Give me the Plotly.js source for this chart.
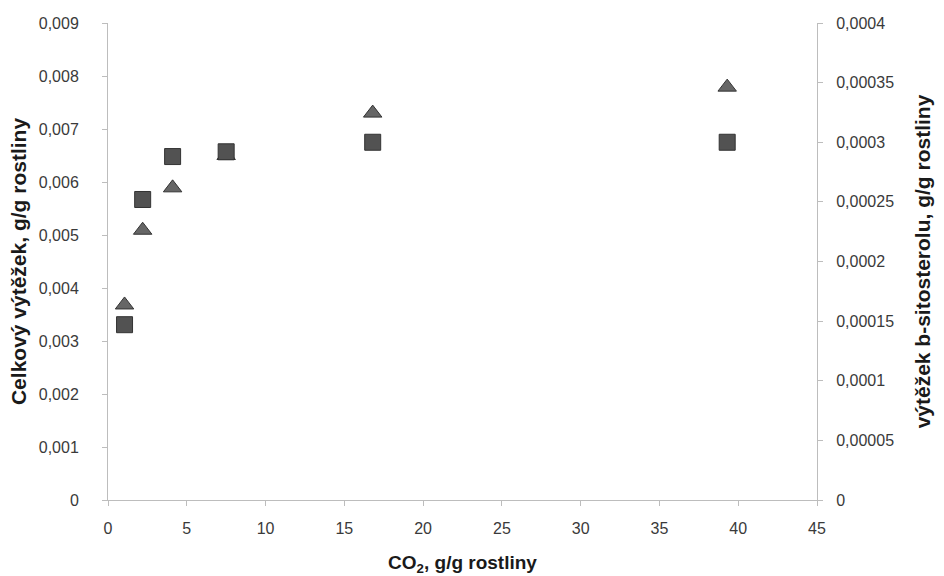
<!DOCTYPE html>
<html>
<head>
<meta charset="utf-8">
<script src="https://cdn.plot.ly/plotly-3.0.1.min.js"></script>
<style>html,body{margin:0;padding:0;background:#fff;}#chart{width:944px;height:576px;}</style>
</head>
<body>
<div id="chart"></div>
<script>
// CO2 consumption, g/g plant
const co2Tri = [1.05, 2.2, 4.1, 7.5, 16.8, 39.3];
const co2Sq = [1.05, 2.2, 4.1, 7.5, 16.8, 39.3];
// Total yield (left axis), triangles
const totalYield = [0.00368, 0.00509, 0.00589, 0.0065, 0.0073, 0.00779];
// b-sitosterol yield (right axis), squares
const sitosterolYield = [0.000147, 0.000252, 0.000288, 0.000292, 0.0003, 0.0003];

const xTicks = [0, 5, 10, 15, 20, 25, 30, 35, 40, 45];
const leftTickVals = [0, 0.001, 0.002, 0.003, 0.004, 0.005, 0.006, 0.007, 0.008, 0.009];
const leftTickText = ['0', '0,001', '0,002', '0,003', '0,004', '0,005', '0,006', '0,007', '0,008', '0,009'];
const rightTickVals = [0, 0.00005, 0.0001, 0.00015, 0.0002, 0.00025, 0.0003, 0.00035, 0.0004];
const rightTickText = ['0', '0,00005', '0,0001', '0,00015', '0,0002', '0,00025', '0,0003', '0,00035', '0,0004'];

const font = 'Liberation Sans, Arial, sans-serif';

const traces = [
  {
    x: co2Tri, y: totalYield, type: 'scatter', mode: 'markers', yaxis: 'y',
    marker: {symbol: 'triangle-up', size: 16, color: '#666666', line: {color: '#333333', width: 1}},
    name: 'Celkový výtěžek'
  },
  {
    x: co2Sq, y: sitosterolYield, type: 'scatter', mode: 'markers', yaxis: 'y2',
    marker: {symbol: 'square', size: 16, color: '#525252', line: {color: '#333333', width: 1}},
    name: 'výtěžek b-sitosterolu'
  }
];

const axisCommon = {
  showgrid: false, zeroline: false, showline: true, linecolor: '#bdbdbd', linewidth: 1,
  ticks: 'outside', ticklen: 5, tickcolor: '#bdbdbd',
  tickfont: {family: font, size: 16, color: '#3a3a3a'}
};

const layout = {
  width: 944, height: 576,
  margin: {l: 108, r: 127, t: 23, b: 76},
  paper_bgcolor: '#fff', plot_bgcolor: '#fff',
  showlegend: false,
  separators: ', ',
  xaxis: Object.assign({}, axisCommon, {
    range: [0, 45], tickvals: xTicks, ticktext: xTicks.map(String),
    ticklabelstandoff: 9,
    title: {text: 'CO<sub>2</sub>, g/g rostliny', font: {family: font, size: 19, color: '#1a1a1a', weight: 'bold'}, standoff: 20}
  }),
  yaxis: Object.assign({}, axisCommon, {
    range: [0, 0.009], tickvals: leftTickVals, ticktext: leftTickText,
    ticklabelstandoff: 20,
    title: {text: 'Celkový výtěžek, g/g rostliny', font: {family: font, size: 21, color: '#1a1a1a', weight: 'bold'}, standoff: 6}
  }),
  yaxis2: Object.assign({}, axisCommon, {
    overlaying: 'y', side: 'right',
    range: [0, 0.0004], tickvals: rightTickVals, ticktext: rightTickText,
    ticklabelstandoff: 10,
    title: {text: 'výtěžek b-sitosterolu, g/g rostliny', font: {family: font, size: 21, color: '#1a1a1a', weight: 'bold'}, standoff: 22}
  })
};

Plotly.newPlot('chart', traces, layout, {displayModeBar: false, staticPlot: true});
</script>
</body>
</html>
